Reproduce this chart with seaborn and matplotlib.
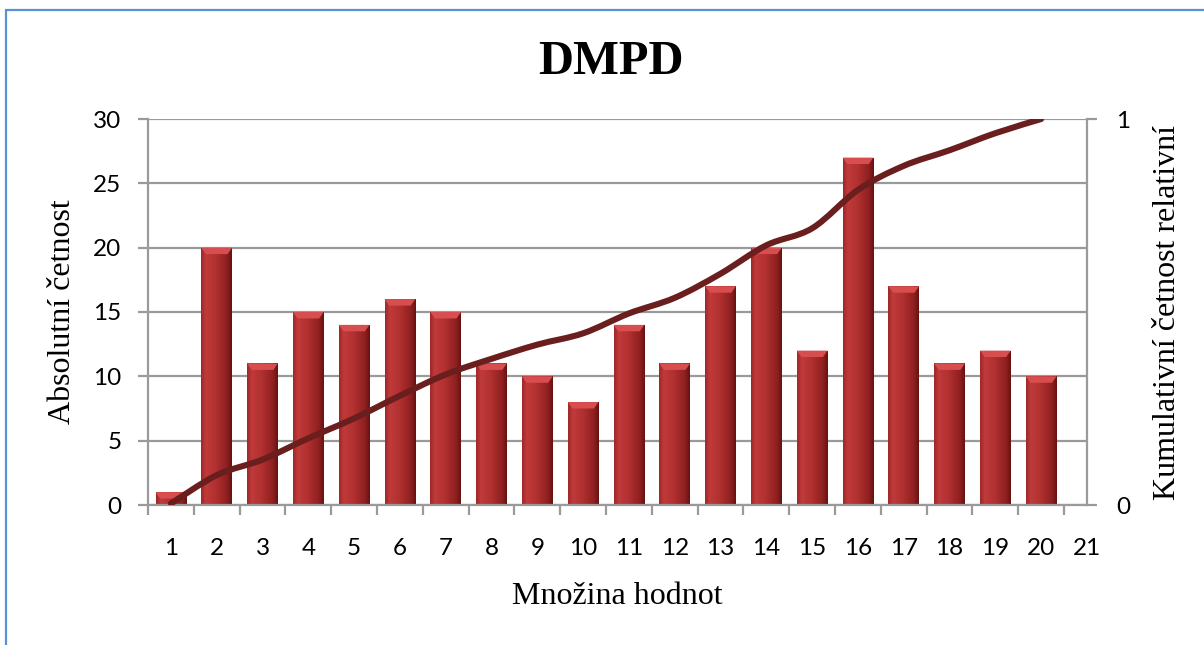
import seaborn as sns
import matplotlib.pyplot as plt
import matplotlib.colors as mcolors
from matplotlib.path import Path
from matplotlib.patches import PathPatch, Rectangle, Polygon
import pandas as pd
import numpy as np


# data
categories = [str(i) for i in range(1, 22)]      # axis has 21 slots, last is empty
values = [1, 20, 11, 15, 14, 16, 15, 11, 10, 8, 14, 11, 17, 20, 12, 27, 17, 11, 12, 10]
cum_rel = np.cumsum(values) / np.sum(values)

df = pd.DataFrame({"x": categories[:len(values)], "n": values})

serif = "Liberation Serif"
tickfont = "Lato"
tfs = 17.5
grid_c = "#9a9a9a"
line_c = "#6b1e1e"

fig = plt.figure(figsize=[12.04, 6.45], dpi=100)
ax = fig.add_axes([148 / 1204, 1 - 505 / 645, (1087 - 148) / 1204, (505 - 119) / 645])

sns.barplot(x="x", y="n", data=df, order=categories[:len(values)], color="#a82a2a",
            width=0.67, saturation=1, ax=ax, zorder=2)

# fake the excel 3d look: horizontal gradient + light bevel on top
cmap = mcolors.LinearSegmentedColormap.from_list(
    "bar", [(0, "#a02828"), (0.15, "#c03a3a"), (0.5, "#b02f2f"), (0.85, "#8e2020"), (1, "#681212")])
grad = np.linspace(0, 1, 64).reshape(1, -1)
for p in ax.patches:
    x0, y0 = p.get_x(), p.get_y()
    w, h = p.get_width(), p.get_height()
    im = ax.imshow(grad, cmap=cmap, extent=[x0, x0 + w, y0, y0 + h], aspect="auto", zorder=2.1)
    im.set_clip_path(p)
    bev = min(0.5, h)
    ax.add_patch(Polygon([[x0, y0 + h], [x0 + w, y0 + h], [x0 + w * 0.85, y0 + h - bev],
                          [x0 + w * 0.15, y0 + h - bev]], closed=True, facecolor="#d84e4e",
                         edgecolor="none", zorder=2.2))
    p.set_edgecolor("none")

ax.set_xlim(-0.5, 20)
ax.set_ylim(0, 30)
ax.set_yticks(range(0, 31, 5))
ax.set_xticks(range(21))
ax.set_xticklabels(categories)
ax.set_xticks(np.arange(-0.5, 20, 1), minor=True)
ax.tick_params(axis="x", which="major", length=0, pad=24, labelsize=tfs, colors="black")
ax.tick_params(axis="x", which="minor", length=7, width=1.6, color=grid_c, direction="out")
ax.tick_params(axis="y", length=7, width=1.6, color=grid_c, direction="out", pad=12, labelsize=tfs)
for lab in ax.get_xticklabels() + ax.get_yticklabels():
    lab.set_family(tickfont)
ax.yaxis.grid(True, color=grid_c, linewidth=1.6, zorder=0)
ax.set_axisbelow(True)
for s in ["top", "right"]:
    ax.spines[s].set_visible(False)
for s in ["left", "bottom"]:
    ax.spines[s].set_color(grid_c)
    ax.spines[s].set_linewidth(1.6)
ax.set_xlabel("Množina hodnot", family=serif, fontsize=23, labelpad=16)
ax.set_ylabel("Absolutní četnost", family=serif, fontsize=23, labelpad=12)

# cumulative relative frequency on the right axis, drawn as a smoothed curve
ax2 = ax.twinx()
ax2.set_ylim(0, 1)
ax2.set_yticks([0, 1])
ax2.tick_params(axis="y", length=7, width=1.6, color=grid_c, direction="out", pad=14, labelsize=tfs)
for lab in ax2.get_yticklabels():
    lab.set_family(tickfont)
for s in ["top", "left", "bottom"]:
    ax2.spines[s].set_visible(False)
ax2.spines["right"].set_color(grid_c)
ax2.spines["right"].set_linewidth(1.6)
ax2.set_ylabel("Kumulativní četnost relativní", family=serif, fontsize=23, labelpad=16)

xs = np.arange(len(cum_rel), dtype=float)
pts = np.column_stack([xs, cum_rel])
ext = np.vstack([pts[0], pts, pts[-1]])
verts = [tuple(pts[0])]
codes = [Path.MOVETO]
for i in range(len(pts) - 1):
    p0, p1, p2, p3 = ext[i], ext[i + 1], ext[i + 2], ext[i + 3]
    c1 = p1 + (p2 - p0) / 6
    c2 = p2 - (p3 - p1) / 6
    verts += [tuple(c1), tuple(c2), tuple(p2)]
    codes += [Path.CURVE4] * 3
ax2.add_patch(PathPatch(Path(verts, codes), facecolor="none", edgecolor=line_c,
                        linewidth=4.4, capstyle="round", zorder=5))

fig.text(611 / 1204, 1 - 62 / 645, "DMPD", family=serif, fontsize=35, fontweight="bold",
         ha="center", va="center")

# blue frame of the chart object
fig.patches.append(Rectangle((6 / 1204, -0.05), 1.1, 1 - 10 / 645 + 0.05, transform=fig.transFigure,
                             fill=False, edgecolor="#5b8fd6", linewidth=1.6))

fig.savefig("out.png", dpi=100)
